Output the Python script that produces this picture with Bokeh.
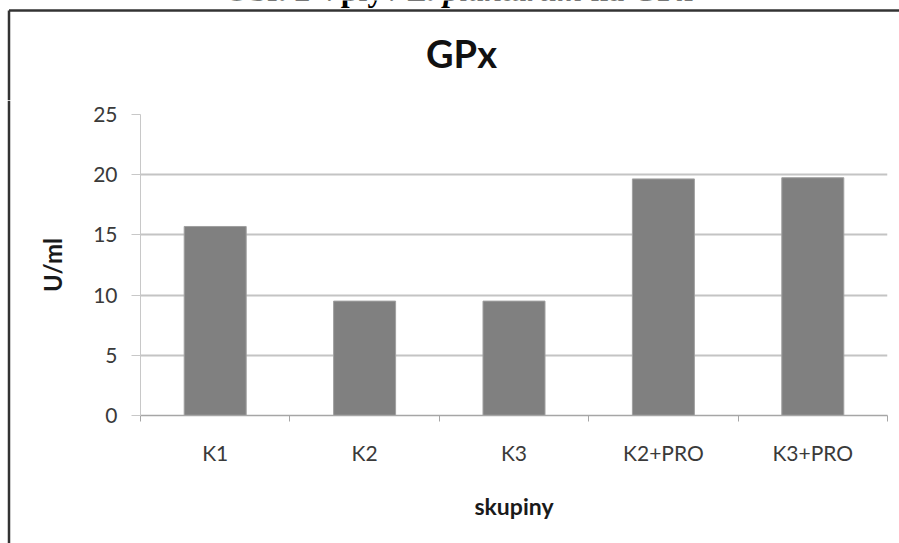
from bokeh.plotting import figure
from bokeh.layouts import column, row
from bokeh.models import Range1d, FixedTicker, Label
from bokeh.embed import file_html
from bokeh.resources import INLINE

# ---- data ----
categories = ["K1", "K2", "K3", "K2+PRO", "K3+PRO"]
gpx_values = [15.7, 9.5, 9.5, 19.65, 19.75]
y_ticks = [0, 5, 10, 15, 20, 25]
chart_title = "GPx"
x_label = "skupiny"
y_label = "U/ml"
caption_parts = ["Obr. 2 Vplyv", "L. plantarum", "na GPx"]

SANS = "Lato"
SERIF = "Liberation Serif"
BAR = "#808080"
GRID = "#c4c4c4"
BORDER = "#333333"

W, H = 899, 543
TOP_H = 100
STRIP_W = 11


def blank(width, height):
    f = figure(width=width, height=height, x_range=Range1d(0, width),
               y_range=Range1d(height, 0),
               output_backend="svg", toolbar_location=None,
               x_axis_location=None, y_axis_location=None,
               min_border=0, min_border_left=0, min_border_right=0,
               min_border_top=0, min_border_bottom=0)
    f.frame_align = False
    f.grid.grid_line_color = None
    f.outline_line_color = None
    f.background_fill_color = "white"
    f.border_fill_color = "white"
    return f


# ---- top strip: caption (cut off), box edge, chart title ----
top = blank(W, TOP_H)
top.segment(x0=[8.5, 8.5], y0=[10, 10], x1=[W, 8.5], y1=[10, TOP_H],
            line_color=BORDER, line_width=2.5)
cap_style = dict(text_baseline="alphabetic", text_font=SERIF,
                 text_font_size="32px", text_color="#000000")
top.add_layout(Label(x=399.5, y=-11, text=caption_parts[0], text_align="right",
                     text_font_style="bold", **cap_style))
top.add_layout(Label(x=407.5, y=-11, text=caption_parts[1], text_align="left",
                     text_font_style="bold italic", **cap_style))
top.add_layout(Label(x=590, y=-11, text=caption_parts[2], text_align="left",
                     text_font_style="bold", **cap_style))
top.add_layout(Label(x=461, y=52, text=chart_title, text_align="center",
                     text_baseline="alphabetic", text_font=SANS,
                     text_font_style="bold", text_font_size="38px",
                     text_color="#111111"))

# ---- left strip: box edge ----
strip = blank(STRIP_W, H - TOP_H)
strip.segment(x0=[8.5], y0=[0], x1=[8.5], y1=[H - TOP_H],
              line_color=BORDER, line_width=2.5)

# ---- main chart ----
n = len(categories)
slot_centers = [i + 0.5 for i in range(n)]
slot_edges = list(range(n + 1))

p = figure(width=W - STRIP_W, height=H - TOP_H, x_range=Range1d(0, n),
           y_range=Range1d(0, 25), output_backend="svg", toolbar_location=None,
           min_border_left=129, min_border_right=12,
           min_border_top=14, min_border_bottom=128)
p.frame_align = False
p.outline_line_color = None
p.background_fill_color = "white"
p.border_fill_color = "white"

p.vbar(x=slot_centers, top=gpx_values, width=0.415, fill_color=BAR,
       line_color="#a0a0a0", line_width=1)

yt = FixedTicker(ticks=y_ticks)
p.yaxis.ticker = yt
p.ygrid.ticker = yt
p.ygrid.grid_line_color = GRID
p.ygrid.grid_line_width = 2
p.xgrid.grid_line_color = None
p.yaxis.axis_line_color = "#c8c8c8"
p.yaxis.major_tick_line_color = "#c8c8c8"
p.yaxis.major_tick_out = 9
p.yaxis.major_tick_in = 0
p.yaxis.minor_tick_line_color = None
p.yaxis.major_label_standoff = 14
p.yaxis.major_label_text_font = SANS
p.yaxis.major_label_text_font_size = "21px"
p.yaxis.major_label_text_color = "#3a3a3a"
p.yaxis.axis_label = y_label
p.yaxis.axis_label_text_font = SANS
p.yaxis.axis_label_text_font_style = "bold"
p.yaxis.axis_label_text_font_size = "24px"
p.yaxis.axis_label_text_color = "#1a1a1a"
p.yaxis.axis_label_standoff = 23

xt = FixedTicker(ticks=slot_centers, minor_ticks=slot_edges)
p.xaxis.ticker = xt
p.xaxis.major_label_overrides = {c: lab for c, lab in zip(slot_centers, categories)}
p.xaxis.axis_line_color = "#a6a6a6"
p.xaxis.axis_line_width = 1.5
p.xaxis.major_tick_line_color = None
p.xaxis.major_tick_out = 0
p.xaxis.major_tick_in = 0
p.xaxis.minor_tick_line_color = "#a6a6a6"
p.xaxis.minor_tick_out = 6
p.xaxis.minor_tick_in = 0
p.xaxis.major_label_standoff = 18
p.xaxis.major_label_text_font = SANS
p.xaxis.major_label_text_font_size = "21px"
p.xaxis.major_label_text_color = "#3a3a3a"
p.xaxis.axis_label = x_label
p.xaxis.axis_label_text_font = SANS
p.xaxis.axis_label_text_font_style = "bold"
p.xaxis.axis_label_text_font_size = "23px"
p.xaxis.axis_label_text_color = "#1a1a1a"
p.xaxis.axis_label_standoff = 24

layout = column(top, row(strip, p, spacing=0), spacing=0)

open("out.html", "w").write(file_html(layout, INLINE))
